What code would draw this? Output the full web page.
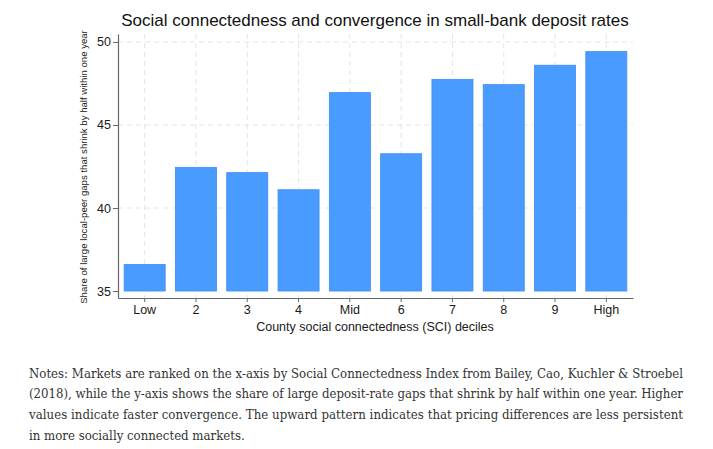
<!DOCTYPE html>
<html>
<head>
<meta charset="utf-8">
<script src="https://cdn.jsdelivr.net/npm/d3@7"></script>
<style>
  body { margin: 0; background: #fff; }
  svg { display: block; }
</style>
</head>
<body>
<div id="chart"></div>
<script>
const deciles = ['Low', '2', '3', '4', 'Mid', '6', '7', '8', '9', 'High']
const shares = [36.6, 42.45, 42.13, 41.1, 46.95, 43.27, 47.75, 47.43, 48.6, 49.42]
const yTicks = [35, 40, 45, 50]
const noteLines = [
  'Notes: Markets are ranked on the x-axis by Social Connectedness Index from Bailey, Cao, Kuchler & Stroebel',
  '(2018), while the y-axis shows the share of large deposit-rate gaps that shrink by half within one year. Higher',
  'values indicate faster convergence. The upward pattern indicates that pricing differences are less persistent',
  'in more socially connected markets.'
]

const width = 713
const height = 449
const plot = { left: 118, right: 633, top: 34, bottom: 298 }

const svg = d3
  .select('#chart')
  .append('svg')
  .attr('width', width)
  .attr('height', height)

const x = d3
  .scaleBand()
  .domain(deciles)
  .range([plot.left, plot.right])
  .paddingInner(0.2)
  .paddingOuter(0.12)

const y = d3
  .scaleLinear()
  .domain([34.58, 50.48])
  .range([plot.bottom, plot.top])

// dashed grid
svg
  .append('g')
  .selectAll('line')
  .data(yTicks.slice(1))
  .enter()
  .append('line')
  .attr('x1', plot.left)
  .attr('x2', plot.right)
  .attr('y1', d => y(d))
  .attr('y2', d => y(d))
  .attr('stroke', '#e4e4e4')
  .attr('stroke-dasharray', '5,4')

svg
  .append('g')
  .selectAll('line')
  .data(deciles)
  .enter()
  .append('line')
  .attr('x1', d => x(d) + x.bandwidth() / 2)
  .attr('x2', d => x(d) + x.bandwidth() / 2)
  .attr('y1', plot.top)
  .attr('y2', plot.bottom)
  .attr('stroke', '#e4e4e4')
  .attr('stroke-dasharray', '5,4')

// bars start at 35, like the original
svg
  .append('g')
  .selectAll('rect')
  .data(shares)
  .enter()
  .append('rect')
  .attr('x', (d, i) => x(deciles[i]))
  .attr('width', x.bandwidth())
  .attr('y', d => y(d))
  .attr('height', d => y(35) - y(d))
  .attr('fill', '#4a9bff')
  .attr('stroke', '#3b8ef6')
  .attr('stroke-width', 0.8)

const yAxis = d3
  .axisLeft(y)
  .tickValues(yTicks)
  .tickSize(5)
  .tickSizeOuter(0)

svg
  .append('g')
  .attr('class', 'axis y-axis')
  .attr('transform', 'translate(' + plot.left + ',0)')
  .call(yAxis)

const xAxis = d3
  .axisBottom(x)
  .tickSize(4)
  .tickSizeOuter(0)

svg
  .append('g')
  .attr('class', 'axis x-axis')
  .attr('transform', 'translate(0,' + plot.bottom + ')')
  .call(xAxis)

svg.selectAll('.axis path').attr('stroke', '#666').attr('stroke-width', 1.2)
svg.selectAll('.axis line').attr('stroke', '#666')
svg
  .selectAll('.axis text')
  .attr('fill', '#1a1a1a')
  .attr('font-family', 'Liberation Sans, Arial, sans-serif')
  .attr('font-size', 12.5)
svg.selectAll('.x-axis text').attr('dy', null).attr('y', 16)
svg.selectAll('.y-axis text').attr('x', -7)

// titles
svg
  .append('text')
  .attr('x', 375)
  .attr('y', 26)
  .attr('text-anchor', 'middle')
  .attr('font-family', 'Liberation Sans, Arial, sans-serif')
  .attr('font-size', 17)
  .attr('fill', '#111')
  .text('Social connectedness and convergence in small-bank deposit rates')

svg
  .append('text')
  .attr('x', 375)
  .attr('y', 331)
  .attr('text-anchor', 'middle')
  .attr('font-family', 'Liberation Sans, Arial, sans-serif')
  .attr('font-size', 12.5)
  .attr('fill', '#1a1a1a')
  .text('County social connectedness (SCI) deciles')

svg
  .append('text')
  .attr('transform', 'translate(87,167) rotate(-90)')
  .attr('text-anchor', 'middle')
  .attr('font-family', 'Liberation Sans, Arial, sans-serif')
  .attr('font-size', 9.6)
  .attr('fill', '#1a1a1a')
  .text('Share of large local-peer gaps that shrink by half within one year')

// notes below the chart
const notes = svg
  .append('g')
  .attr('font-family', '"DejaVu Serif Condensed", "Liberation Serif", serif')
  .attr('font-stretch', 'condensed')
  .attr('fill', '#333')

notes
  .selectAll('text')
  .data(noteLines)
  .enter()
  .append('text')
  .attr('x', 29)
  .attr('y', (d, i) => 377.5 + i * 20.7)
  .attr('font-size', 13)
  .text(d => d)

// fit the note font so the full lines span the same width as the original
const lineWidth = 654
const first = notes.select('text').node()
const fitSize = 13 * lineWidth / first.getComputedTextLength()
notes.selectAll('text').attr('font-size', fitSize)
notes
  .selectAll('text')
  .filter((d, i) => i < 3)
  .attr('textLength', lineWidth)
  .attr('lengthAdjust', 'spacing')
</script>
</body>
</html>
